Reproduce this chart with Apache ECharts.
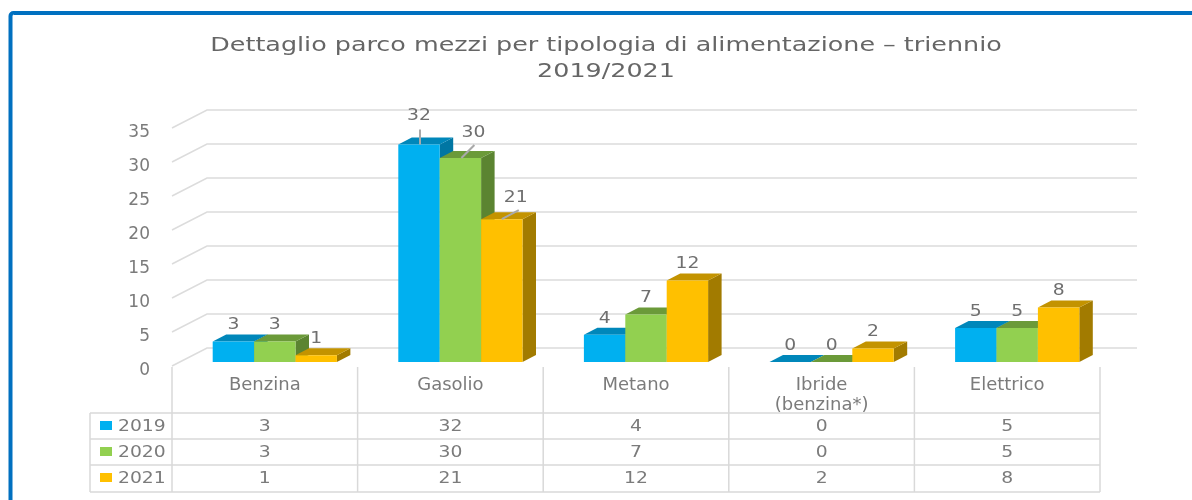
<!DOCTYPE html>
<html>
<head>
<meta charset="utf-8">
<title>Parco mezzi</title>
<style>
html,body{margin:0;padding:0;background:#fff;}
#myChart{width:1192px;height:500px;}
</style>
<script src="https://cdn.jsdelivr.net/npm/echarts@6/dist/echarts.min.js"></script>
</head>
<body>
<div id="myChart"></div>
<script>
var chartTitle = 'Dettaglio parco mezzi per tipologia di alimentazione \u2013 triennio\n2019/2021';
var categories = ['Benzina','Gasolio','Metano','Ibride\n(benzina*)','Elettrico'];
var years = ['2019','2020','2021'];
var values2019 = [3,32,4,0,5];
var values2020 = [3,30,7,0,5];
var values2021 = [1,21,12,2,8];
var yTicks = [0,5,10,15,20,25,30,35];

var allValues = [values2019,values2020,values2021];
var fronts = ['#00B0F0','#92D050','#FFC000'];
var tops = ['#0087BA','#6B9A39','#C39300'];
var sides = ['#0076A3','#5B8431','#A27B00'];
var textColor = '#7b7b7b';
var font = 'DejaVu Sans';
var stretch = 1.25; //il riferimento e' allargato in orizzontale
var rows = [427,453,479];
var rowLines = [413,439,465,492];

//muro di fondo
var wallItem = function(params, api){
	var p = api.coord([0, api.value(0)]);
	var x0 = params.coordSys.x, w = params.coordSys.width;
	return {
		type: 'polyline',
		shape: {points: [[x0,p[1]],[x0+35,p[1]-18],[x0+w+37,p[1]-18]]},
		style: {fill: null, stroke: '#dcdcdc', lineWidth: 1.5}
	};
};
//barre finte 3d
var barItem = function(s){
	return function(params, api){
		var c = api.coord([api.value(0), api.value(1)]);
		var base = api.coord([api.value(0), 0]);
		var w = 41.4, dx = 13.5, dy = 7;
		var x = c[0] + 10 - w*1.5 + w*s, y0 = base[1] - 4, y = c[1] - 4;
		return {
			type: 'group',
			children: [
				{type:'polygon', shape:{points:[[x+w,y],[x+w+dx,y-dy],[x+w+dx,y0-dy],[x+w,y0]]}, style:{fill:sides[s]}},
				{type:'polygon', shape:{points:[[x,y],[x+dx,y-dy],[x+w+dx,y-dy],[x+w,y]]}, style:{fill:tops[s]}},
				{type:'rect', shape:{x:x,y:y,width:w,height:y0-y}, style:{fill:fronts[s]}}
			]
		};
	};
};
//testo allargato
var wideText = function(x, y, text, color, align){
	return {
		type:'text', x:x, y:y, scaleX:stretch,
		style:{text:text, fill:color, font:'15px "DejaVu Sans"', textAlign:align || 'center', textVerticalAlign:'middle'}
	};
};
//etichette, quelle di Gasolio hanno la linea guida
var leaders = {
	'0_1': {lx:0, ly:-28, from:[1,-15], to:[1,0]},
	'1_1': {lx:13, ly:-25, from:[14,-13], to:[1,0]},
	'2_1': {lx:14, ly:-21, from:[17,-9], to:[0,0]}
};
var labelItem = function(s){
	return function(params, api){
		var cat = api.value(0);
		var c = api.coord([cat, api.value(1)]);
		var x = c[0] + 10 - 41.4 + 41.4*s, y = c[1] - 4;
		var l = leaders[s + '_' + cat];
		var children = [wideText(x+(l?l.lx:0), y+(l?l.ly:-16), String(api.value(1)), '#6f6f6f')];
		if(l){
			children.push({type:'line', shape:{x1:x+l.from[0],y1:y+l.from[1],x2:x+l.to[0],y2:y+l.to[1]}, style:{stroke:'#a9a9a9', lineWidth:2}});
		}
		return {type:'group', children:children};
	};
};
//tabella dati sotto il grafico
var tableItem = function(params, api){
	var s = api.value(0), cat = api.value(1);
	var p = api.coord([cat, 0]);
	return wideText(p[0], rows[s], String(api.value(2)), textColor);
};

var tableData = [];
var i, j;
for(i = 0; i < years.length; i++){
	for(j = 0; j < categories.length; j++){
		tableData.push([i, j, allValues[i][j]]);
	}
}

var series = [{
	type:'custom', name:'griglia', coordinateSystem:'cartesian2d', silent:true, z:1,
	data: yTicks.map(function(v){ return [v]; }),
	encode:{y:0},
	renderItem: wallItem
}];
years.forEach(function(year, s){
	var rowData = allValues[s].map(function(v, c){ return [c, v]; });
	series.push({type:'custom', name:year, silent:true, z:2+s, data:rowData, encode:{x:0,y:1}, renderItem:barItem(s)});
	series.push({type:'custom', name:year+' etichette', silent:true, z:10, data:rowData, encode:{x:0,y:1}, renderItem:labelItem(s)});
});
series.push({type:'custom', name:'tabella', silent:true, z:10, data:tableData, encode:{x:1}, renderItem:tableItem});

//cornice, titolo, linee e chiavi della tabella
var graphics = [{
	type:'rect', shape:{x:10.5,y:13,width:1300,height:700,r:3}, style:{fill:'#fff', stroke:'#0070C0', lineWidth:4}, z:-1
},{
	type:'text', x:606, y:33, scaleX:1.27,
	style:{text:chartTitle, fill:'#666666', font:'20px "DejaVu Sans"', lineHeight:26, textAlign:'center', textVerticalAlign:'top'}
}];
rowLines.forEach(function(y){
	graphics.push({type:'line', shape:{x1:90,y1:y,x2:1100,y2:y}, style:{stroke:'#d9d9d9', lineWidth:1.5}});
});
graphics.push({type:'line', shape:{x1:90,y1:413,x2:90,y2:492}, style:{stroke:'#d9d9d9', lineWidth:1.5}});
for(i = 0; i <= categories.length; i++){
	var vx = 172 + 185.6*i;
	graphics.push({type:'line', shape:{x1:vx,y1:367,x2:vx,y2:492}, style:{stroke:'#d9d9d9', lineWidth:1.5}});
}
years.forEach(function(year, s){
	graphics.push({type:'rect', shape:{x:100,y:rows[s]-6,width:12,height:9}, style:{fill:fronts[s]}});
	graphics.push(wideText(118, rows[s], year, textColor, 'left'));
});

var myChart = echarts.init(document.getElementById('myChart'), null, {renderer:'canvas'});
myChart.setOption({
	animation:false,
	backgroundColor:'#fff',
	grid:{left:172, top:128, width:928, height:238},
	xAxis:{
		type:'category', data:categories,
		axisLine:{show:false}, axisTick:{show:false},
		axisLabel:{margin:9, color:textColor, fontFamily:font, fontSize:18, lineHeight:20, verticalAlign:'top', interval:0}
	},
	yAxis:{
		type:'value', min:0, max:35, interval:5,
		splitLine:{show:false}, axisLine:{show:false}, axisTick:{show:false},
		axisLabel:{margin:22, color:textColor, fontFamily:font, fontSize:17, verticalAlign:'top', lineHeight:10}
	},
	graphic:{elements:graphics},
	series:series
});
</script>
</body>
</html>
